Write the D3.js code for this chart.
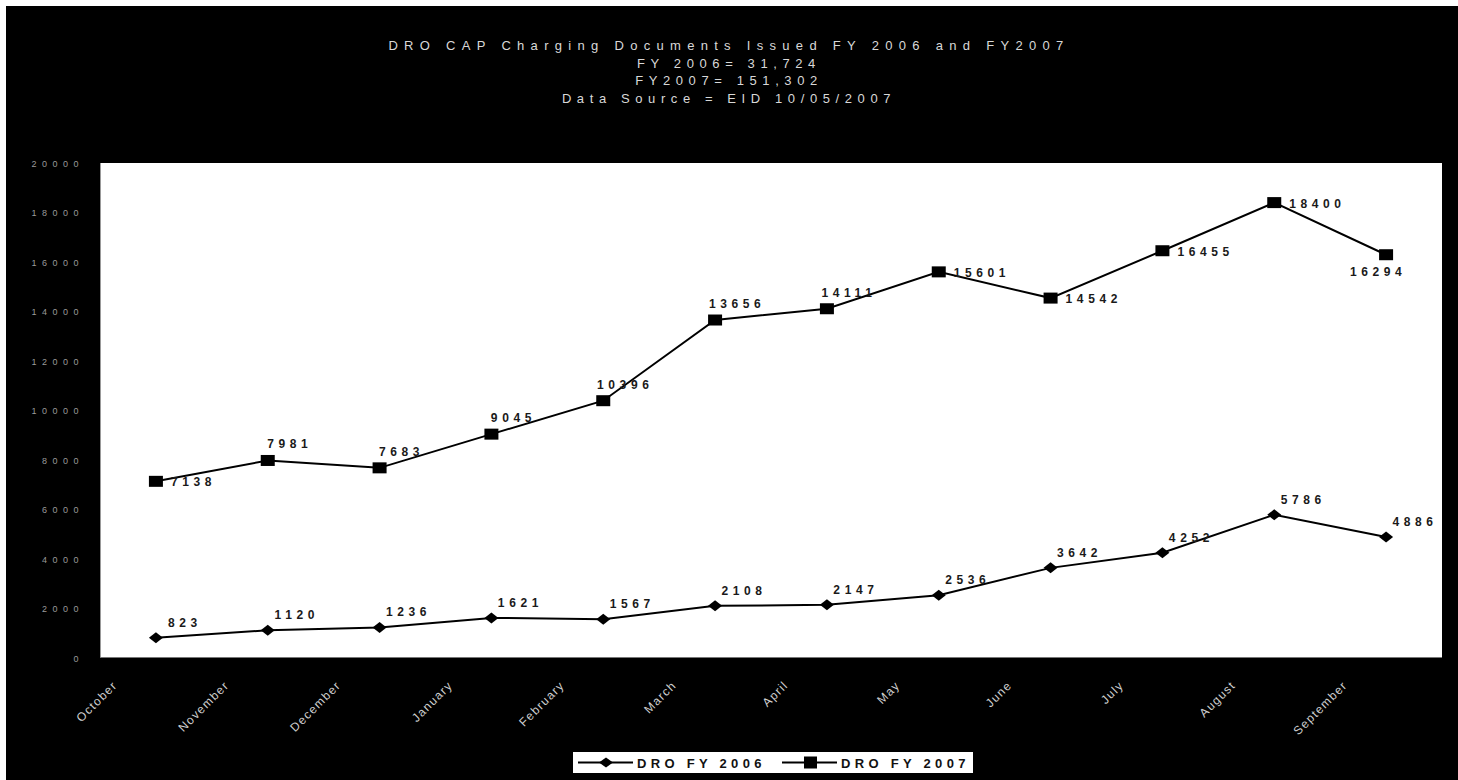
<!DOCTYPE html>
<html>
<head>
<meta charset="utf-8">
<script src="https://cdn.jsdelivr.net/npm/d3@7/dist/d3.min.js"></script>
<style>
  html, body { margin: 0; padding: 0; background: #fff; }
  svg { display: block; }
</style>
</head>
<body>
<svg id="chart" width="1458" height="780"></svg>
<script>
// ---- data ----
const months = ["October","November","December","January","February","March","April","May","June","July","August","September"];
const fy2006 = [823, 1120, 1236, 1621, 1567, 2108, 2147, 2536, 3642, 4252, 5786, 4886];
const fy2007 = [7138, 7981, 7683, 9045, 10396, 13656, 14111, 15601, 14542, 16455, 18400, 16294];
const labelSide2007 = ["right","above","above","above","above","above","above","right","right","right","right","below"];
const yTicks = [0, 2000, 4000, 6000, 8000, 10000, 12000, 14000, 16000, 18000, 20000];
const titleLines = ["DRO CAP Charging Documents Issued FY 2006 and FY2007", "FY 2006= 31,724", "FY2007= 151,302", "Data Source = EID 10/05/2007"];
const seriesNames = ["DRO FY 2006", "DRO FY 2007"];

// ---- layout ----
const W = 1458, H = 780;
const plot = { left: 100, right: 1442, top: 163, bottom: 658 };
const font = "'Liberation Sans', Arial, sans-serif";

const svg = d3.select("#chart");
// white paper with black panel (scan look)
svg.append("rect").attr("x", 0).attr("y", 0).attr("width", W).attr("height", H).attr("fill", "#fff");
svg.append("rect").attr("x", 6).attr("y", 6).attr("width", W - 6).attr("height", H - 6).attr("fill", "#000");

// scales
const x = d3.scaleBand().domain(months).range([plot.left, plot.right]).paddingInner(0).paddingOuter(0);
const cx = m => x(m) + x.bandwidth() / 2;
const y = d3.scaleLinear().domain([0, 20000]).range([plot.bottom, plot.top]);

// plot area
svg.append("rect")
  .attr("x", plot.left).attr("y", plot.top)
  .attr("width", plot.right - plot.left).attr("height", plot.bottom - plot.top)
  .attr("fill", "#fff");
svg.append("line").attr("x1", plot.left + 0.5).attr("x2", plot.left + 0.5)
  .attr("y1", plot.top).attr("y2", plot.bottom).attr("stroke", "#999").attr("stroke-width", 1);
svg.append("line").attr("x1", plot.left).attr("x2", plot.right)
  .attr("y1", plot.bottom - 0.5).attr("y2", plot.bottom - 0.5).attr("stroke", "#777").attr("stroke-width", 1);

// title
svg.append("g").selectAll("text").data(titleLines).join("text")
  .attr("x", 729)
  .attr("y", (d, i) => 50 + i * 17.7)
  .attr("text-anchor", "middle")
  .attr("font-family", font)
  .attr("font-size", 13)
  .attr("fill", "#d8d8d8")
  .attr("letter-spacing", (d, i) => i === 0 ? "6.3px" : "5.6px")
  .text(d => d);

// y axis (labels only)
const yAxis = d3.axisLeft(y).tickValues(yTicks).tickSize(0).tickPadding(0).tickFormat(d3.format("d"));
const yg = svg.append("g").attr("transform", `translate(84,0)`).call(yAxis);
yg.select(".domain").remove();
yg.selectAll("text")
  .attr("font-family", font).attr("font-size", 9).attr("fill", "#9a9a9a")
  .attr("letter-spacing", "5.5px").attr("dy", "0.35em");

// x axis (labels only)
const xAxis = d3.axisBottom(x).tickSize(0).tickPadding(0);
const xg = svg.append("g").attr("transform", `translate(0,${plot.bottom})`).call(xAxis);
xg.select(".domain").remove();
xg.selectAll(".tick text")
  .attr("font-family", font).attr("font-size", 12).attr("fill", "#cfcfcf")
  .attr("letter-spacing", "1.3px")
  .attr("text-anchor", "end")
  .attr("y", 0).attr("dy", 0)
  .attr("transform", `translate(-38, 28) rotate(-45)`);

// lines
const line = d3.line().x((d, i) => cx(months[i])).y(d => y(d));
svg.append("path").datum(fy2006).attr("d", line).attr("fill", "none").attr("stroke", "#000").attr("stroke-width", 2);
svg.append("path").datum(fy2007).attr("d", line).attr("fill", "none").attr("stroke", "#000").attr("stroke-width", 2);

// markers
const diamond = (w, h) => `M0,${-h / 2}L${w / 2},0L0,${h / 2}L${-w / 2},0Z`;
svg.append("g").selectAll("path").data(fy2006).join("path")
  .attr("d", diamond(14, 11))
  .attr("transform", (d, i) => `translate(${cx(months[i])},${y(d)})`)
  .attr("fill", "#000");
svg.append("g").selectAll("rect").data(fy2007).join("rect")
  .attr("x", (d, i) => cx(months[i]) - 7).attr("y", d => y(d) - 5.5)
  .attr("width", 14).attr("height", 11).attr("fill", "#000");

// data labels
const lblStyle = sel => sel.attr("font-family", font).attr("font-size", 12).attr("font-weight", "bold")
  .attr("letter-spacing", "4.6px").attr("fill", "#1a1a1a");
svg.append("g").selectAll("text").data(fy2006).join("text")
  .call(lblStyle)
  .attr("text-anchor", "middle")
  .attr("x", (d, i) => cx(months[i]) + 29)
  .attr("y", d => y(d) - 11)
  .text(d => d);
svg.append("g").selectAll("text").data(fy2007).join("text")
  .call(lblStyle)
  .attr("text-anchor", (d, i) => labelSide2007[i] === "right" ? "start" : "middle")
  .attr("x", (d, i) => {
    const s = labelSide2007[i], px = cx(months[i]);
    return s === "right" ? px + 15 : s === "above" ? px + 22 : px - 8;
  })
  .attr("y", (d, i) => {
    const s = labelSide2007[i], py = y(d);
    return s === "right" ? py + 5 : s === "above" ? py - 12 : py + 21;
  })
  .text(d => d);

// legend
const lg = svg.append("g");
lg.append("rect").attr("x", 573).attr("y", 752).attr("width", 400).attr("height", 21).attr("fill", "#fff");
const legendX = [578, 782];
seriesNames.forEach((name, i) => {
  const x0 = legendX[i], ym = 762.5;
  lg.append("line").attr("x1", x0).attr("x2", x0 + 55).attr("y1", ym).attr("y2", ym)
    .attr("stroke", "#000").attr("stroke-width", 2);
  if (i === 0) {
    lg.append("path").attr("d", diamond(14, 10)).attr("transform", `translate(${x0 + 28},${ym})`).attr("fill", "#000");
  } else {
    lg.append("rect").attr("x", x0 + 22).attr("y", ym - 6).attr("width", 13).attr("height", 12).attr("fill", "#000");
  }
  lg.append("text").attr("x", x0 + 59).attr("y", ym + 5)
    .attr("font-family", font).attr("font-size", 13).attr("font-weight", "bold")
    .attr("letter-spacing", "4.3px").attr("fill", "#111").text(name);
});
</script>
</body>
</html>
